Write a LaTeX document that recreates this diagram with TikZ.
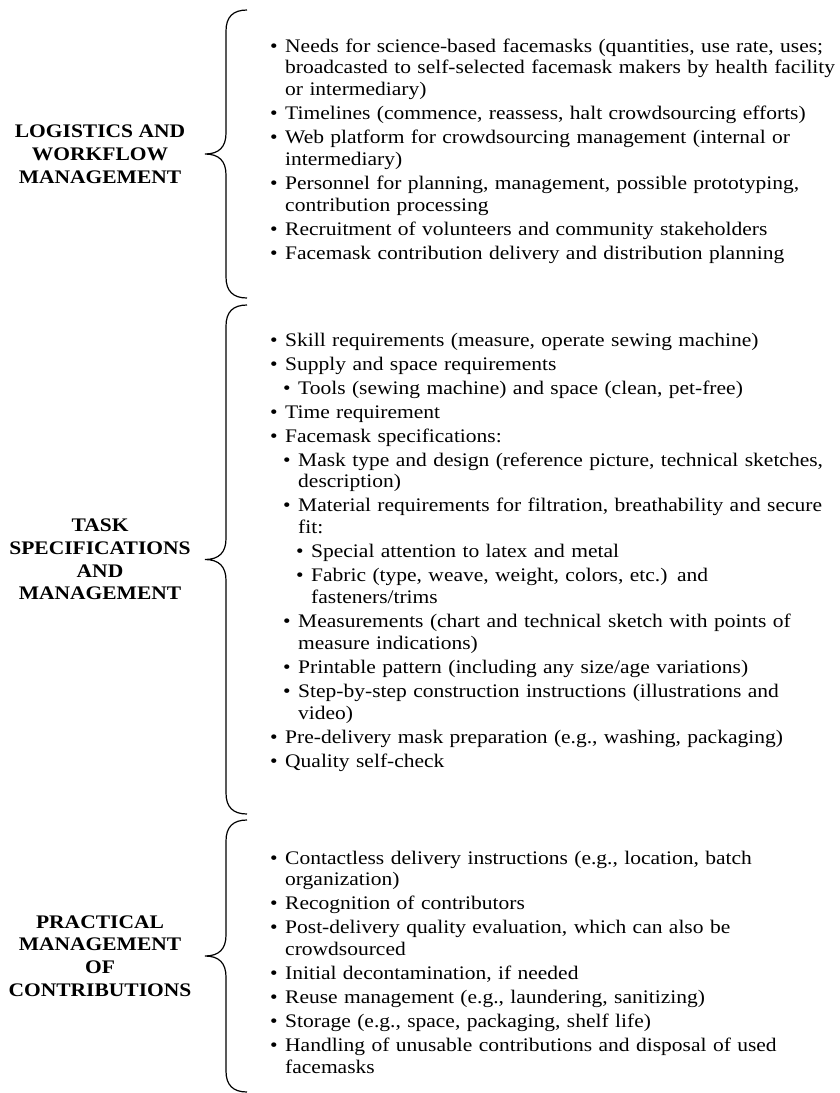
\documentclass[tikz,border=0pt]{standalone}
\usepackage{fontspec}
\setmainfont[FakeStretch = 1.12]{Liberation Serif}

\newcommand{\bul}[2]{\par\leftskip=#1\noindent\llap{\makebox[15pt][l]{\textbullet}}#2}

\tikzset{
    heading/.style = {font = \fontsize{19.2}{22.8}\selectfont\bfseries, align = center, inner sep = 0pt},
    itemlist/.style = {font = \fontsize{19.2}{21.8}\selectfont, text width = 600pt, align = left, anchor = north west, inner sep = 0pt,
        execute at begin node = {\setlength{\parskip}{2.2pt}}},
    curly/.style = {line width = 1.2pt}
}

\begin{document}
\begin{tikzpicture}[x = 1pt, y = -1pt]
    \useasboundingbox[fill = white] (0,0) rectangle (839,1093);

    \foreach \ytop/\ybot in {10/298, 305/814, 820/1092}
    {
        \pgfmathsetmacro{\ymid}{(\ytop+\ybot)/2}
        \draw[curly] (247,\ytop) .. controls (233,\ytop) and (226,\ytop+7) .. (226,\ytop+21) -- (226,\ymid-21)
            .. controls (226,\ymid-7) and (219,\ymid) .. (205,\ymid)
            .. controls (219,\ymid) and (226,\ymid+7) .. (226,\ymid+21) -- (226,\ybot-21)
            .. controls (226,\ybot-7) and (233,\ybot) .. (247,\ybot);
    }

    \node[heading] (logistics) at (100,154) {LOGISTICS AND\\WORKFLOW\\MANAGEMENT};
    \node[heading] (task) at (100,559.5) {TASK\\SPECIFICATIONS\\AND\\MANAGEMENT};
    \node[heading] (practical) at (100,956) {PRACTICAL\\MANAGEMENT\\OF\\CONTRIBUTIONS};

    \node[itemlist] (logisticslist) at (285,27.8)
    {
        \bul{0pt}{\rule{0pt}{15pt}Needs for science-based facemasks (quantities, use rate, uses;\newline broadcasted to self-selected facemask makers by health facility\newline or intermediary)}
        \bul{0pt}{Timelines (commence, reassess, halt crowdsourcing efforts)}
        \bul{0pt}{Web platform for crowdsourcing management (internal or\newline intermediary)}
        \bul{0pt}{Personnel for planning, management, possible prototyping,\newline contribution processing}
        \bul{0pt}{Recruitment of volunteers and community stakeholders}
        \bul{0pt}{Facemask contribution delivery and distribution planning}
    };

    \node[itemlist] (tasklist) at (285,321.8)
    {
        \bul{0pt}{\rule{0pt}{15pt}Skill requirements (measure, operate sewing machine)}
        \bul{0pt}{Supply and space requirements}
        \bul{13pt}{Tools (sewing machine) and space (clean, pet-free)}
        \bul{0pt}{Time requirement}
        \bul{0pt}{Facemask specifications:}
        \bul{13pt}{Mask type and design (reference picture, technical sketches,\newline description)}
        \bul{13pt}{Material requirements for filtration, breathability and secure\newline fit:}
        \bul{26pt}{Special attention to latex and metal}
        \bul{26pt}{Fabric (type, weave, weight, colors, etc.) and\newline fasteners/trims}
        \bul{13pt}{Measurements (chart and technical sketch with points of\newline measure indications)}
        \bul{13pt}{Printable pattern (including any size/age variations)}
        \bul{13pt}{Step-by-step construction instructions (illustrations and\newline video)}
        \bul{0pt}{Pre-delivery mask preparation (e.g., washing, packaging)}
        \bul{13pt}{Quality self-check}
    };

    \node[itemlist] (practicallist) at (285,839.8)
    {
        \bul{0pt}{\rule{0pt}{15pt}Contactless delivery instructions (e.g., location, batch\newline organization)}
        \bul{0pt}{Recognition of contributors}
        \bul{0pt}{Post-delivery quality evaluation, which can also be\newline crowdsourced}
        \bul{0pt}{Initial decontamination, if needed}
        \bul{0pt}{Reuse management (e.g., laundering, sanitizing)}
        \bul{0pt}{Storage (e.g., space, packaging, shelf life)}
        \bul{0pt}{Handling of unusable contributions and disposal of used\newline facemasks}
    };
\end{tikzpicture}
\end{document}
